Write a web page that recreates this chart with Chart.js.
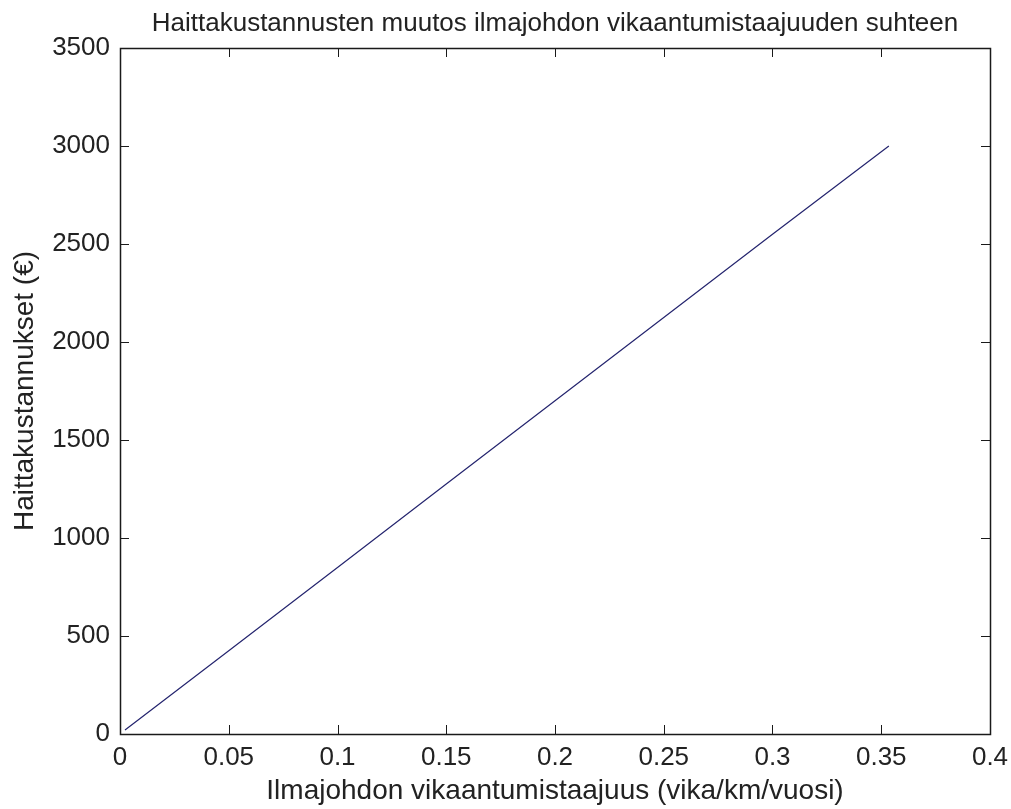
<!DOCTYPE html>
<html>
<head>
<meta charset="utf-8">
<script src="https://cdn.jsdelivr.net/npm/chart.js@4/dist/chart.umd.min.js"></script>
<style>
  html, body { margin: 0; padding: 0; background: #ffffff; }
  #wrap { width: 1011px; height: 809px; }
</style>
</head>
<body>
<div id="wrap"><canvas id="plot" width="1011" height="809"></canvas></div>
<script>
// Data
const failureRate = [0.0023, 0.05, 0.1, 0.15, 0.2, 0.25, 0.3, 0.3535];
const outageCost = [20, 425, 850, 1275, 1700, 2125, 2550, 3000];

const xTicks = [0, 0.05, 0.1, 0.15, 0.2, 0.25, 0.3, 0.35, 0.4];
const yTicks = [0, 500, 1000, 1500, 2000, 2500, 3000, 3500];

const titleText = 'Haittakustannusten muutos ilmajohdon vikaantumistaajuuden suhteen';
const xLabel = 'Ilmajohdon vikaantumistaajuus (vika/km/vuosi)';
const yLabel = 'Haittakustannukset (\u20AC)';

const textColor = '#222222';
const fontFamily = '"Liberation Sans", Arial, sans-serif';
const fontSize = 26;
const labelSize = 28;

// MATLAB style box with ticks pointing inward
const boxTicks = {
    id: 'boxTicks',
    afterDraw(chart) {
        const { ctx, chartArea: a, scales } = chart;
        const len = 9;
        ctx.save();
        ctx.strokeStyle = '#1a1a1a';
        ctx.lineWidth = 1;
        ctx.beginPath();
        xTicks.forEach(v => {
            const px = Math.round(scales.x.getPixelForValue(v)) + 0.5;
            ctx.moveTo(px, a.bottom);
            ctx.lineTo(px, a.bottom - len);
            ctx.moveTo(px, a.top);
            ctx.lineTo(px, a.top + len);
        });
        yTicks.forEach(v => {
            const py = Math.round(scales.y.getPixelForValue(v)) + 0.5;
            ctx.moveTo(a.left, py);
            ctx.lineTo(a.left + len, py);
            ctx.moveTo(a.right, py);
            ctx.lineTo(a.right - len, py);
        });
        ctx.stroke();
        ctx.lineWidth = 1.5;
        ctx.strokeRect(Math.round(a.left) + 0.5, Math.round(a.top) + 0.5,
            Math.round(a.right - a.left), Math.round(a.bottom - a.top));
        ctx.restore();
    }
};

const ctx = document.getElementById('plot').getContext('2d');
new Chart(ctx, {
    type: 'scatter',
    data: {
        datasets: [{
            data: failureRate.map((x, i) => ({ x: x, y: outageCost[i] })),
            showLine: true,
            borderColor: '#24246e',
            borderWidth: 1.2,
            pointRadius: 0,
            fill: false,
            tension: 0
        }]
    },
    options: {
        responsive: false,
        animation: false,
        layout: { padding: { left: 0, right: 21, top: 0, bottom: 0 } },
        plugins: {
            legend: { display: false },
            tooltip: { enabled: false },
            title: {
                display: true,
                fullSize: false,
                text: titleText,
                color: textColor,
                font: { family: fontFamily, size: fontSize, weight: 'normal' },
                padding: { top: 8, bottom: 8.8 }
            }
        },
        scales: {
            x: {
                type: 'linear',
                min: 0,
                max: 0.4,
                afterFit: s => { s.height = 75; },
                afterBuildTicks: s => { s.ticks = xTicks.map(v => ({ value: v })); },
                grid: { display: false },
                border: { display: false },
                ticks: {
                    color: textColor,
                    font: { family: fontFamily, size: fontSize },
                    padding: 0,
                    maxRotation: 0,
                    callback: v => String(v)
                },
                title: {
                    display: true,
                    text: xLabel,
                    color: textColor,
                    font: { family: fontFamily, size: labelSize },
                    padding: { top: 0, bottom: 1 }
                }
            },
            y: {
                type: 'linear',
                min: 0,
                max: 3500,
                afterFit: s => { s.width = 120; },
                afterBuildTicks: s => { s.ticks = yTicks.map(v => ({ value: v })); },
                grid: { display: false },
                border: { display: false },
                ticks: {
                    color: textColor,
                    font: { family: fontFamily, size: fontSize },
                    padding: 2,
                    callback: v => String(v)
                },
                title: {
                    display: true,
                    text: yLabel,
                    color: textColor,
                    font: { family: fontFamily, size: labelSize },
                    padding: { top: 8.5, bottom: 0 }
                }
            }
        }
    },
    plugins: [boxTicks]
});
</script>
</body>
</html>
